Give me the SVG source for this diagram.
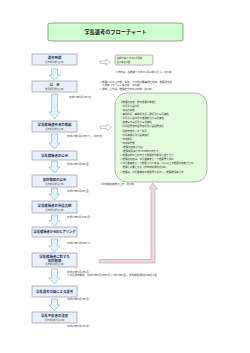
<svg xmlns="http://www.w3.org/2000/svg" width="250" height="353" viewBox="0 0 250 353">
<style>
text{font-family:"Noto Sans CJK JP","Noto Sans",sans-serif}
.box{fill:#e9f0fb;stroke:#8c8c8c;stroke-width:0.6}
.lbl{font-size:3.4px;font-weight:bold;fill:#1f2f5a;text-anchor:middle}
.sub{font-size:2.1px;fill:#555;text-anchor:middle}
.dt{font-size:2.5px;fill:#444}
.note{font-size:2.5px;fill:#444}
.arr{fill:#e2f4fb;stroke:#7f9cb0;stroke-width:0.5}
.rarr{fill:#fff;stroke:#888;stroke-width:0.5}
.gbox{fill:#e4fadc;stroke:#8c8c8c;stroke-width:0.6}
.li{font-size:2.45px;fill:#333}
</style>
<rect width="250" height="353" fill="#fff"/>
<g id="title">
<rect x="48" y="23" width="135" height="18" rx="2" fill="#ccffcc" stroke="#777" stroke-width="0.7"/>
<text x="115.5" y="33.8" font-size="5.2" font-weight="bold" fill="#222" text-anchor="middle">学長選考のフローチャート</text>
</g>
<g id="connectors">
<path class="arr" d="M51.5,69H57.5V75H60L54.5,80L49,75H51.5Z"/>
<path class="arr" d="M51.5,94H57.5V112H60L54.5,119L49,112H51.5Z"/>
<path class="arr" d="M51.5,134H57.5V143H60L54.5,149L49,143H51.5Z"/>
<path class="arr" d="M51.5,161H57.5V167H60L54.5,173L49,167H51.5Z"/>
<path class="arr" d="M51.5,188H57.5V194H60L54.5,200L49,194H51.5Z"/>
<path class="arr" d="M51.5,215H57.5V220.5H60L54.5,226L49,220.5H51.5Z"/>
<path class="arr" d="M51.5,239H57.5V246H60L54.5,252L49,246H51.5Z"/>
<path class="arr" d="M51.5,269H57.5V278H60L54.5,284L49,278H51.5Z"/>
<path class="arr" d="M51.5,299H57.5V305H60L54.5,310.5L49,305H51.5Z"/>
<path class="rarr" d="M100,61H106V59L110.5,62.2L106,65.4V63.4H100Z"/>
<path class="rarr" d="M100,126H107V124L111.5,127.2L107,130.4V128.4H100Z"/>
<path d="M99,259.5H151V189H148.6L153,183L157.4,189H155V263H99Z" fill="#f5d6d6" stroke="#999" stroke-width="0.5"/>
</g>
<g id="n1"><rect class="box" x="32" y="54" width="45" height="11"/><text class="lbl" x="54.5" y="59.3">選考時期</text><text class="sub" x="54.5" y="63">(選考期間規則第1条)</text></g>
<g id="n2"><rect class="box" x="32" y="81" width="45" height="11"/><text class="lbl" x="54.5" y="86.3">公　示</text><text class="sub" x="54.5" y="90">(推薦期間規則第3条)</text></g>
<g id="n3"><rect class="box" x="32" y="121" width="45" height="11"/><text class="lbl" x="54.5" y="126.3">学長候補適任者の推薦</text><text class="sub" x="54.5" y="130">(選考期間規則第5条)</text></g>
<g id="n4"><rect class="box" x="32" y="151" width="45" height="9"/><text class="lbl" x="54.5" y="156.7">学長候補者の公示</text></g>
<g id="n5"><rect class="box" x="32" y="175" width="45" height="12"/><text class="lbl" x="54.5" y="180.6">意向聴取の公示</text><text class="sub" x="54.5" y="184.6">(選考期間規則第7条)</text></g>
<g id="n6"><rect class="box" x="32" y="201" width="45" height="12"/><text class="lbl" x="54.5" y="206.6">学長候補者の所信表明</text><text class="sub" x="54.5" y="210.6">(選考期間規則第8条)</text></g>
<g id="n7"><rect class="box" x="32" y="227" width="45" height="10"/><text class="lbl" x="54.5" y="233.2" textLength="42" lengthAdjust="spacingAndGlyphs">学長候補者からのヒアリング</text></g>
<g id="n8"><rect class="box" x="32" y="253" width="45" height="14"/><text class="lbl" x="54.5" y="257.8">学長候補者に対する</text><text class="lbl" x="54.5" y="261.6">意向聴取</text><text class="sub" x="54.5" y="265.2">(選考期間規則第9条)</text></g>
<g id="n9"><rect class="box" x="32" y="286" width="45" height="11"/><text class="lbl" x="54.5" y="292.7">学長選考会議による選考</text></g>
<g id="n10"><rect class="box" x="32" y="312" width="45" height="11"/><text class="lbl" x="54.5" y="317.3">学長予定者の決定</text><text class="sub" x="54.5" y="321">(選考期間規則第11条)</text></g>
<g id="dates">
<text class="dt" x="69" y="98.3">平成27年4月1日(水)</text>
<text class="dt" x="67" y="136.8">平成27年4月14日(火)、15日(水)</text>
<text class="dt" x="67" y="164.8">平成27年5月8日(金)</text>
<text class="dt" x="67" y="191.8">平成27年5月8日(金)</text>
<text class="dt" x="67" y="217.8">平成27年5月18日(月)</text>
<text class="dt" x="67" y="243.8">平成27年5月26日(火)</text>
<text class="dt" x="67" y="272.6">平成27年6月1日(月)</text>
<text class="dt" x="67" y="276.4">※学長選挙期間　平成27年5月18日(月)～5月29日(金)　選考期間規則第9条第1項</text>
<text class="dt" x="67" y="300.3">平成27年6月1日(月)</text>
<text class="dt" x="67" y="326.8">平成27年6月1日(月)</text>
</g>
<g id="n11"><rect class="gbox" x="115" y="55" width="38" height="10" rx="2"/><text class="li" x="116.5" y="59">任期が満了する2か月前</text><text class="li" x="116.5" y="62.8">(第1条第1項)</text></g>
<g id="notes">
<text class="note" x="115" y="72.8">※選考は、任期満了の日の1月以前に行う。(第2条)</text>
<text class="note" x="99.5" y="82.8">※推薦に係る公示期、場所、その他必要事項を定め、推薦資格者</text>
<text class="note" x="99.5" y="86.4">　に通知（ホーム、掲示板、学内報）</text>
<text class="note" x="99.5" y="90">※通知、公示は、推薦受付日の10日前（第6条）</text>
<text class="note" x="99.5" y="184.8">※意向聴取結果の公示（第8条）</text>
</g>
<g id="n12"><rect class="gbox" x="115" y="93" width="92" height="89" rx="12"/>
<text class="li" x="120" y="102.8">【推薦資格者・選出推薦対象者】</text>
<text class="li" x="120" y="106.9">・学長及び副学長</text>
<text class="li" x="120" y="111">・専任の教授</text>
<text class="li" x="120" y="115.1">・事務局長、事務局次長、課長及び室長補佐</text>
<text class="li" x="120" y="119.2">・学長及び副学長の推薦者及び室長補佐</text>
<text class="li" x="120" y="123.3">・監査室の室長及び室長補佐</text>
<text class="li" x="120" y="127.4">・附属図書館の図書館長及び副図書館長</text>
<text class="li" x="120" y="131.5">・保健管理センター所長</text>
<text class="li" x="120" y="135.6">・附属病院長及び副病院長</text>
<text class="li" x="120" y="139.7">・技術部長</text>
<text class="li" x="120" y="143.8">・技術専門員</text>
<text class="li" x="120" y="147.9">　(推薦資格者 計2名)</text>
<text class="li" x="120" y="152">　(推薦期間満了後 15日前の日まで)</text>
<text class="li" x="120" y="156.1">※推薦は前の公示日から推薦受付期間を経てから</text>
<text class="li" x="120" y="160.2">※推薦資格者は、学長候補者として推薦書を提出</text>
<text class="li" x="120" y="164.3">※学長候補者として推薦された者は、15人以上の推薦資格者からの</text>
<text class="li" x="120" y="168.4">　推薦を必要とする（選考期間規則第5条）</text>
<text class="li" x="120" y="172.5">※推薦は、学長候補者の推薦書を提出し、推薦期間満了日</text>
</g>
</svg>
